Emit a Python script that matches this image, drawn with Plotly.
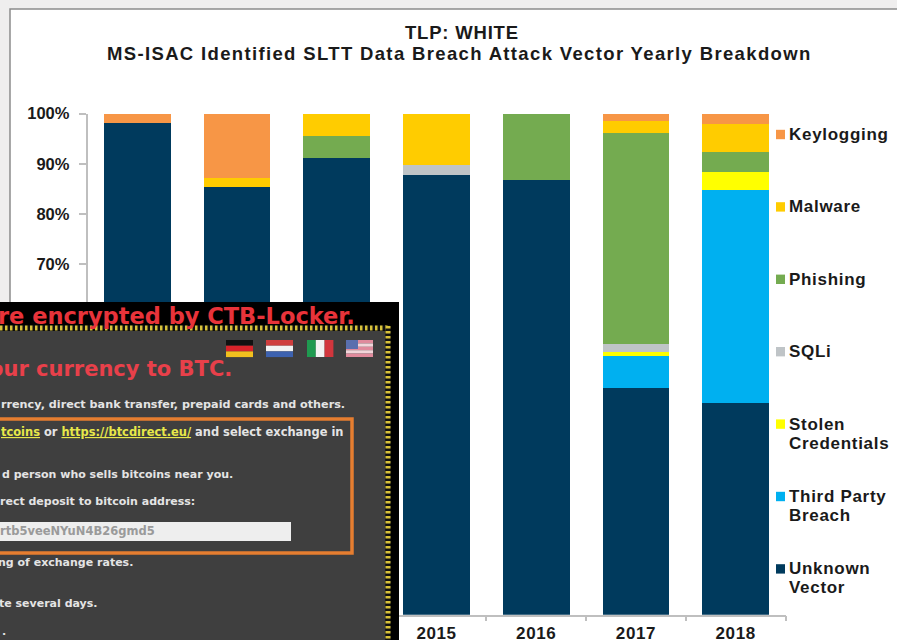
import plotly.graph_objects as go

years = ["2012", "2013", "2014", "2015", "2016", "2017", "2018"]
year_labels = ["", "", "", "2015", "2016", "2017", "2018"]
unknown_vector = [98.2, 85.4, 91.2, 87.8, 86.8, 45.2, 42.3]
third_party = [0, 0, 0, 0, 0, 6.4, 42.4]
stolen_credentials = [0, 0, 0, 0, 0, 0.9, 3.7]
sqli = [0, 0, 0, 2.0, 0, 1.5, 0]
phishing = [0, 0, 4.4, 0, 13.2, 42.1, 3.9]
malware = [0, 1.8, 4.4, 10.2, 0, 2.4, 5.7]
keylogging = [1.8, 12.8, 0, 0, 0, 1.5, 2.0]
y_ticks = [70, 80, 90, 100]

W, H = 897, 640
TXT = "#1a1a1a"
FONT = "Liberation Sans"

def X(px):
    return px / W

def Y(py):
    return 1 - py / H

series = [
    ("Unknown<br>Vector", unknown_vector, "#003A5D"),
    ("Third Party<br>Breach", third_party, "#00B0F0"),
    ("Stolen<br>Credentials", stolen_credentials, "#FFFF00"),
    ("SQLi", sqli, "#BFC4C7"),
    ("Phishing", phishing, "#74AB50"),
    ("Malware", malware, "#FFCC00"),
    ("Keylogging", keylogging, "#F79646"),
]

fig = go.Figure()
for name, vals, col in series:
    fig.add_bar(x=years, y=vals, name=name.replace("<br>", " "), marker_color=col, marker_line_width=0,
                width=0.67, showlegend=False)

shapes = []
annots = []

def rect(x0, y0, x1, y1, fill=None, line=None, lw=0):
    shapes.append(dict(type="rect", xref="paper", yref="paper", x0=X(x0), x1=X(x1), y0=Y(y0), y1=Y(y1),
                       fillcolor=fill or "rgba(0,0,0,0)", line=dict(color=line or "rgba(0,0,0,0)", width=lw),
                       layer="above"))

def line(x0, y0, x1, y1, col, lw, dash="solid"):
    shapes.append(dict(type="line", xref="paper", yref="paper", x0=X(x0), x1=X(x1), y0=Y(y0), y1=Y(y1),
                       line=dict(color=col, width=lw, dash=dash), layer="above"))

def text(x, y, s, size=11.5, col="#e4e4e4", anchor="right", family="DejaVu Sans", spacing=None):
    body = f"<b>{s}</b>"
    if spacing is not None:
        body = f"<span style='letter-spacing:{spacing}px'>{body}</span>"
    shift = {"left": -2, "right": 2, "center": 0}[anchor]
    annots.append(dict(xref="paper", yref="paper", x=X(x + shift), y=Y(y), text=body,
                       showarrow=False, xanchor=anchor, yanchor="middle", align=anchor,
                       font=dict(size=size, color=col, family=family)))

# chart frame, below everything
shapes.append(dict(type="rect", xref="paper", yref="paper", x0=X(10), x1=X(W + 10), y0=Y(9), y1=Y(H + 10),
                   fillcolor="white", line=dict(color="#8c8c8c", width=1.5), layer="below"))

# title
text(462, 32, "TLP: WHITE", size=18.5, col=TXT, anchor="center", family=FONT, spacing=0.8)
text(460, 54, "MS-ISAC Identified SLTT Data Breach Attack Vector Yearly Breakdown", size=18.5, col=TXT,
     anchor="center", family=FONT, spacing=1.35)

# legend, built from the series table
top_first = series[::-1]
for i, (name, vals, col) in enumerate(top_first):
    y0 = 134.5 + i * 72.4
    rect(776, y0 - 4.7, 785, y0 + 4.7, fill=col)
    for j, part in enumerate(name.split("<br>")):
        text(789, y0 + j * 19, part, size=17, col=TXT, anchor="left", family=FONT, spacing=0.7)

# pasted ransom note screenshot
rect(-5, 302, 399, 645, fill="#000000")
rect(-5, 331, 386, 645, fill="#3f3f3f")
line(-5, 328, 390, 328, "#111111", 5.5)
line(-5, 328, 390, 328, "#d8c23a", 5, "2.5px,2.5px")
line(388, 326, 388, 645, "#111111", 5.5)
line(388, 326, 388, 645, "#d8c23a", 5, "2.5px,2.5px")

# flags
for i, c in enumerate(["#111111", "#d8232a", "#f2c01e"]):
    rect(226, 340 + i * 5.7, 253, 345.7 + i * 5.7, fill=c)
for i, c in enumerate(["#cf3d3d", "#f2f2f2", "#3d62b0"]):
    rect(266, 340 + i * 5.7, 293, 345.7 + i * 5.7, fill=c)
for i, c in enumerate(["#1f9a50", "#f2f2f2", "#d2363d"]):
    rect(307 + i * 8.8, 340, 315.8 + i * 8.8, 357, fill=c)
for i, c in enumerate(["#e08a9c", "#f2d5da", "#e08a9c", "#f2d5da", "#e08a9c"]):
    rect(346, 340 + i * 3.4, 373, 343.4 + i * 3.4, fill=c)
rect(346, 340, 358, 349, fill="#5a6fae")

# orange box and address field
rect(-5, 419, 352, 553, line="#E67E30", lw=3.5)
rect(-5, 522, 291, 541, fill="#eeeeee")

text(355, 316, "re encrypted by CTB-Locker.", size=22.5, col="#e8333a")
text(232, 369, "our currency to BTC.", size=21, col="#e8404a")
text(345, 404, "rrency, direct bank transfer, prepaid cards and others.", size=11.2)
link = "color:#e8e84a;text-decoration:underline"
text(343, 432, f"<span style='{link}'>tcoins</span> or <span style='{link}'>https://btcdirect.eu/</span> and select exchange in", size=11.45)
text(233, 474, "d person who sells bitcoins near you.", size=11)
text(195, 501, "rect deposit to bitcoin address:", size=11)
text(155, 531, "rtb5veeNYuN4B26gmd5", size=11.5, col="#9a9a9a")
text(133, 562, "ng of exchange rates.", size=11)
text(98, 603, "te several days.", size=11)
text(6, 631, ".", size=11)

fig.update_layout(
    width=W, height=H, autosize=False,
    margin=dict(l=0, r=0, t=0, b=0),
    paper_bgcolor="#EFEEEE", plot_bgcolor="rgba(0,0,0,0)",
    barmode="stack", showlegend=False,
    font=dict(family=FONT, color=TXT),
    xaxis=dict(domain=[X(87.5), X(785.5)], type="category", categoryorder="array", categoryarray=years,
               tickson="boundaries", ticks="outside", ticklen=5, automargin=False, ticklabelstandoff=2,
               tickcolor="#bfbfbf", tickwidth=1.5, showline=True, linecolor="#bfbfbf", linewidth=1.5,
               showgrid=False, tickmode="array", tickvals=years,
               ticktext=[f"<span style='letter-spacing:0.6px'><b>{y}</b></span>" if y else "" for y in year_labels],
               tickfont=dict(size=17, color=TXT, family=FONT)),
    yaxis=dict(domain=[Y(614.7), Y(113.7)], range=[0, 100], tickvals=y_ticks, automargin=False,
               ticktext=[f"<b>{v}%</b>" for v in y_ticks],
               ticks="outside", ticklen=7, tickcolor="#bfbfbf", tickwidth=1.5, showline=True, linecolor="#bfbfbf",
               linewidth=1.5, showgrid=False, zeroline=False, ticklabelstandoff=6,
               tickfont=dict(size=16.5, color=TXT, family=FONT)),
    shapes=shapes, annotations=annots, bargap=0.33,
)

fig.write_html("out.html", config={"displayModeBar": False},
               post_script="document.body.style.margin='0';document.body.style.overflow='hidden';")
